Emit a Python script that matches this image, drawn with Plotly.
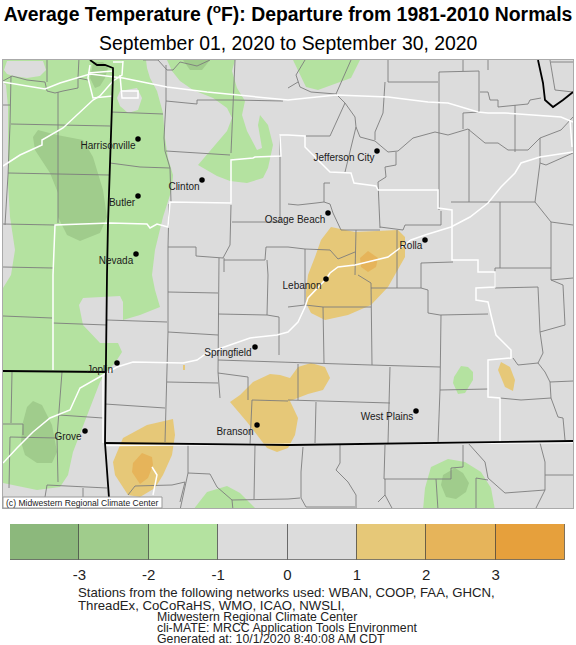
import plotly.graph_objects as go

PAGE_W = 576
PAGE_H = 645

# colour per departure bin
BIN_COLORS = ['#8CB87C', '#A0CC8C', '#B4E2A0', '#DCDCDC', '#DCDCDC', '#E6C878', '#E6B45A', '#E6A03C']
BIN_CENTERS = [-3.5, -2.5, -1.5, -0.5, 0.5, 1.5, 2.5, 3.5]
BIN_HEIGHTS = [1, 1, 1, 1, 1, 1, 1, 1]
TICK_VALUES = [-3, -2, -1, 0, 1, 2, 3]

LIGHT_GREEN = BIN_COLORS[2]
MID_GREEN = BIN_COLORS[1]
LIGHT_ORANGE = BIN_COLORS[5]
MID_ORANGE = BIN_COLORS[6]
GRAY = BIN_COLORS[3]

# contour regions, in map coordinates
green_west = [(3, 60), (146, 60), (147, 68), (150, 78), (157, 91), (160, 101), (163, 113), (165, 138), (168, 158),
              (173, 175), (172, 188), (170, 195), (163, 217), (155, 250), (152, 275), (155, 290), (160, 307), (140, 315),
              (123, 320), (123, 302), (120, 296), (83, 298), (79, 305), (83, 325), (100, 343), (118, 343), (122, 352),
              (115, 363), (105, 373), (100, 382), (90, 408), (73, 452), (68, 475), (60, 487), (37, 490), (3, 483),
              (3, 288), (11, 275), (15, 250), (10, 217), (8, 183), (8, 107), (6, 85), (3, 82)]
gray_topleft = [(7, 61), (43, 61), (46, 70), (40, 76), (27, 78), (13, 76), (7, 74), (4, 70)]
gray_kc = [(120, 91), (137, 88), (142, 98), (138, 110), (128, 113), (120, 106), (117, 98)]
green_central = [(167, 60), (235, 60), (232, 71), (237, 88), (245, 101), (242, 115), (247, 131), (257, 150), (262, 148),
                 (258, 125), (260, 115), (268, 125), (273, 145), (270, 158), (268, 168), (263, 178), (247, 183),
                 (230, 181), (217, 176), (198, 165), (210, 151), (227, 131), (232, 118), (227, 108), (213, 98),
                 (193, 90), (180, 81), (172, 71)]
green_north = [(293, 60), (360, 60), (351, 78), (318, 90), (306, 87), (300, 75)]
green_south = [(193, 510), (207, 492), (227, 486), (240, 493), (257, 510)]
green_small = [(461, 366), (454, 377), (453, 383), (458, 394), (465, 393), (473, 380), (473, 372), (468, 367)]
green_se = [(448, 459), (431, 467), (425, 488), (423, 510), (495, 510), (491, 488), (481, 472), (465, 462)]

dark_west = [(38, 130), (33, 137), (35, 150), (50, 173), (58, 193), (58, 217), (67, 235), (80, 241), (100, 233),
             (107, 217), (103, 190), (93, 157), (83, 140), (57, 135)]
dark_kc = [(92, 68), (90, 78), (95, 88), (100, 86), (105, 78), (108, 68), (103, 62), (93, 62)]
dark_top = [(183, 60), (210, 60), (202, 70), (190, 70)]
dark_ok = [(33, 401), (27, 407), (23, 422), (21, 442), (25, 455), (37, 463), (52, 463), (57, 452), (52, 425), (42, 405)]
dark_se = [(455, 468), (443, 475), (441, 485), (446, 497), (456, 499), (466, 492), (469, 483), (463, 473)]

orange_ar = [(173, 419), (147, 425), (123, 438), (113, 462), (115, 475), (128, 495), (140, 497), (155, 488), (163, 475),
             (172, 455), (175, 435)]
orange_branson = [(270, 374), (253, 382), (240, 395), (230, 402), (247, 422), (267, 448), (277, 452), (288, 448),
                  (295, 435), (298, 418), (290, 401), (298, 398), (308, 394), (323, 390), (330, 378), (325, 367),
                  (311, 363), (298, 367), (290, 378), (280, 375)]
orange_lebanon = [(331, 227), (321, 240), (315, 257), (308, 275), (306, 292), (306, 303), (311, 313), (325, 320),
                  (348, 315), (371, 305), (388, 287), (396, 273), (405, 257), (405, 237), (398, 230), (355, 232)]
orange_dot = [(183, 365), (185, 365), (185, 370), (183, 370)]
orange_east = [(501, 362), (498, 370), (505, 387), (513, 391), (515, 380), (510, 367)]
deep_ar = [(142, 453), (133, 463), (132, 472), (140, 484), (148, 478), (153, 465), (152, 457)]
deep_lebanon = [(368, 251), (360, 258), (361, 267), (368, 272), (376, 267), (378, 258)]

# county borders
county_lines = [
    [(3, 81), (12, 76), (27, 80), (45, 82), (47, 91), (55, 93), (63, 91), (78, 88), (78, 78)],
    [(47, 58), (47, 82)], [(79, 58), (78, 78)], [(78, 78), (88, 80)],
    [(11, 76), (10, 125), (8, 175), (5, 225)], [(3, 105), (10, 105)],
    [(58, 92), (58, 223)], [(11, 124), (110, 126)], [(8, 173), (109, 175)],
    [(3, 224), (55, 225)], [(3, 267), (53, 268)], [(3, 316), (52, 318)], [(53, 323), (107, 325)],
    [(111, 112), (163, 114)], [(110, 163), (125, 165), (140, 167), (170, 168)],
    [(166, 65), (166, 101), (164, 138), (165, 151), (170, 168), (171, 202)],
    [(166, 151), (230, 155)], [(166, 101), (197, 104), (197, 100), (233, 100), (283, 101)],
    [(235, 60), (231, 153)], [(143, 60), (158, 60), (167, 70), (173, 70), (180, 62), (197, 66), (210, 60)],
    [(169, 204), (168, 247), (196, 247), (196, 256), (223, 258), (230, 245), (231, 205)],
    [(232, 222), (280, 222)], [(224, 258), (224, 272)], [(168, 275), (168, 332), (165, 442)],
    [(168, 247), (168, 275)], [(168, 292), (218, 293)], [(219, 258), (218, 332), (218, 372), (220, 398)],
    [(107, 320), (167, 322)], [(168, 332), (218, 335)], [(267, 260), (268, 275), (267, 315), (218, 314)],
    [(224, 260), (265, 260), (266, 247), (288, 247), (305, 249), (330, 250), (338, 259), (355, 252)],
    [(267, 315), (279, 317), (279, 355)], [(218, 360), (280, 362), (371, 365)],
    [(167, 382), (218, 383)], [(218, 373), (248, 377), (248, 400)], [(252, 400), (250, 445)], [(252, 400), (288, 401)],
    [(105, 404), (165, 408)], [(280, 135), (280, 222)],
    [(288, 88), (298, 82)], [(305, 60), (296, 75), (300, 87), (311, 92), (336, 94)], [(351, 60), (336, 94)],
    [(388, 60), (388, 82), (438, 82)], [(385, 82), (383, 113), (375, 132), (375, 140)],
    [(336, 94), (345, 103), (355, 117), (356, 127), (360, 137), (375, 141), (388, 152), (398, 151), (413, 138),
     (435, 132), (448, 135), (468, 129), (485, 143), (498, 143), (508, 150), (528, 150), (540, 138), (561, 130), (573, 117)],
    [(345, 103), (330, 136), (306, 136)], [(356, 127), (345, 172)],
    [(396, 152), (396, 165), (385, 167), (386, 177), (378, 182), (380, 228)],
    [(439, 72), (439, 210)], [(439, 72), (479, 71), (479, 112)], [(463, 60), (463, 71)], [(488, 60), (488, 70)],
    [(463, 113), (463, 129)], [(463, 113), (479, 112)], [(469, 129), (469, 202)],
    [(480, 92), (488, 92), (490, 100), (498, 100), (498, 107), (515, 105), (528, 104), (530, 100), (541, 98)],
    [(515, 105), (515, 152)], [(540, 138), (540, 163), (535, 202)], [(540, 163), (546, 165), (573, 153)],
    [(451, 202), (535, 202)], [(500, 202), (500, 268)], [(551, 222), (551, 268)],
    [(535, 202), (551, 222), (573, 225)], [(495, 268), (551, 268)], [(421, 263), (421, 288)], [(421, 263), (453, 262)],
    [(324, 183), (330, 183)], [(324, 183), (324, 202), (316, 203), (298, 205), (288, 204)],
    [(324, 202), (330, 204), (333, 213), (340, 227), (341, 230), (380, 230)],
    [(380, 227), (403, 230), (405, 225), (441, 225), (441, 211)],
    [(356, 230), (355, 275)], [(397, 230), (397, 288)], [(305, 249), (305, 305)],
    [(288, 307), (305, 305), (323, 307), (371, 307)], [(358, 275), (371, 283), (372, 365)],
    [(371, 288), (421, 288), (428, 290), (428, 313), (440, 315), (488, 314)], [(323, 307), (324, 363)],
    [(298, 364), (298, 400)], [(288, 400), (390, 403)], [(390, 367), (388, 443)], [(316, 402), (315, 443)],
    [(441, 315), (440, 390), (438, 443)], [(440, 390), (488, 389)], [(371, 365), (440, 367)],
    [(495, 268), (495, 288), (538, 287), (540, 332), (543, 353), (538, 363), (518, 365), (513, 358)],
    [(540, 332), (565, 325), (563, 285), (551, 280), (573, 278)], [(551, 268), (551, 280)],
    [(538, 363), (545, 372), (550, 382), (573, 381)],
    [(550, 382), (551, 398), (558, 417), (563, 418), (565, 440)], [(500, 398), (521, 400), (551, 398)],
    [(468, 443), (485, 462), (488, 478), (505, 493), (545, 490), (535, 510)],
    [(540, 443), (545, 462), (545, 475), (573, 475)], [(545, 475), (545, 490)],
    [(463, 445), (463, 467), (451, 468), (451, 479), (384, 479), (385, 445)], [(436, 479), (438, 510)],
    [(476, 478), (476, 510)], [(476, 478), (488, 480)],
    [(340, 445), (340, 463), (336, 470), (348, 482), (356, 495), (356, 510)],
    [(303, 447), (301, 472), (301, 498), (306, 507), (355, 507)],
    [(385, 479), (385, 495), (378, 502)], [(385, 495), (393, 510)],
    [(12, 372), (11, 423)], [(3, 424), (23, 424), (23, 435)], [(62, 372), (59, 415), (57, 437), (58, 482)],
    [(59, 415), (103, 418)], [(10, 437), (57, 438)], [(10, 437), (9, 488)], [(47, 485), (107, 488)],
    [(47, 485), (45, 497)], [(83, 488), (83, 497)],
    [(188, 445), (188, 473), (180, 510)], [(188, 473), (210, 474), (217, 487), (232, 500), (288, 499), (300, 498)],
    [(255, 445), (254, 499)], [(232, 500), (233, 510)],
    [(128, 495), (135, 486), (172, 485), (185, 482), (180, 502)],
    [(550, 60), (555, 90), (573, 92)], [(551, 62), (573, 62)],
]

# highways and main roads
white_lines = [
    [(3, 82), (45, 89), (60, 83), (90, 74), (123, 78), (167, 87), (207, 92), (288, 100), (336, 95), (388, 97),
     (428, 102), (448, 103), (478, 112), (488, 113), (505, 113), (561, 117), (573, 122)],
    [(3, 463), (17, 448), (33, 432), (50, 418), (70, 410), (80, 388), (103, 375), (117, 367), (133, 362), (183, 363),
     (197, 360), (207, 353), (230, 345), (250, 338), (277, 335), (288, 332), (298, 322), (305, 307), (308, 298),
     (326, 279), (330, 273), (338, 267), (355, 265), (376, 260), (388, 257), (400, 248), (411, 240), (425, 235),
     (451, 227), (470, 217), (488, 203), (501, 187), (515, 173), (521, 163), (540, 157), (573, 152)],
    [(3, 166), (20, 155), (42, 145), (42, 140), (63, 128), (93, 100), (100, 96), (113, 81)],
    [(90, 65), (88, 78), (93, 98), (113, 96)], [(120, 75), (122, 98), (138, 98), (138, 91), (122, 91)],
    [(113, 62), (123, 62)], [(123, 61), (122, 75), (113, 81)], [(88, 73), (113, 71)],
    [(53, 370), (53, 275), (55, 225), (110, 223), (147, 224), (150, 228), (157, 224), (168, 227), (170, 202), (228, 203),
     (231, 203), (231, 160), (253, 158), (255, 157), (281, 156), (280, 135), (288, 135), (305, 136), (305, 147),
     (330, 172), (351, 173), (354, 183), (376, 186), (378, 190), (438, 190), (438, 208), (452, 210), (452, 260),
     (478, 260), (478, 272), (495, 272), (495, 287), (476, 288), (476, 300), (488, 302), (491, 315), (496, 335),
     (511, 350), (511, 358), (488, 360), (488, 397), (500, 398), (500, 442)],
    [(152, 467), (157, 475), (153, 495)],
    [(570, 120), (572, 147)],
    [(103, 375), (103, 443)],
    [(106, 445.5), (573, 442.5)],
]

# state borders
state_lines = [
    [(90, 60), (97, 65), (105, 65), (113, 68), (113, 75), (108, 223), (107, 275), (106, 372), (105, 443), (109, 498)],
    [(3, 371), (106, 372)],
    [(105, 443), (288, 445), (573, 441)],
    [(538, 60), (543, 83), (545, 100), (553, 107), (563, 100), (573, 92)],
]

city_names = ['Harrisonville', 'Butler', 'Nevada', 'Clinton', 'Jefferson City', 'Osage Beach', 'Rolla', 'Lebanon',
              'Springfield', 'Joplin', 'Grove', 'Branson', 'West Plains']
city_x = [138, 138, 136, 202, 377, 328, 425, 326, 255, 117, 85, 257, 416]
city_y = [139, 196, 254, 180, 151, 213, 240, 279, 347, 363, 431, 425, 411]
label_x = [108, 122, 116, 184, 344, 295, 411, 302, 228, 100, 68, 235, 387]
label_y = [146, 203, 261, 187, 158, 220, 246, 286, 353, 370, 437, 432, 417]

footer_left = ['Stations from the following networks used: WBAN, COOP, FAA, GHCN,',
               'ThreadEx, CoCoRaHS, WMO, ICAO, NWSLI,']
footer_right = ['Midwestern Regional Climate Center', 'cli-MATE: MRCC Application Tools Environment',
                'Generated at: 10/1/2020 8:40:08 AM CDT']


def px_x(x):
    return x / PAGE_W


def px_y(y):
    return 1 - y / PAGE_H


def add_region(fig, points, color):
    fig.add_trace(go.Scatter(
        x=[p[0] for p in points] + [points[0][0]],
        y=[p[1] for p in points] + [points[0][1]],
        mode='lines', fill='toself', fillcolor=color,
        line=dict(width=0, color=color), hoverinfo='skip', showlegend=False
    ))


def add_lines(fig, lines, color, width):
    xs, ys = [], []
    for line in lines:
        xs += [p[0] for p in line] + [None]
        ys += [p[1] for p in line] + [None]
    fig.add_trace(go.Scatter(x=xs, y=ys, mode='lines', line=dict(color=color, width=width),
                             hoverinfo='skip', showlegend=False))


fig = go.Figure()

for region in [green_west, green_central, green_north, green_south, green_small, green_se]:
    add_region(fig, region, LIGHT_GREEN)
for region in [gray_topleft, gray_kc]:
    add_region(fig, region, GRAY)
for region in [dark_west, dark_kc, dark_top, dark_ok, dark_se]:
    add_region(fig, region, MID_GREEN)
for region in [orange_ar, orange_branson, orange_lebanon, orange_dot, orange_east]:
    add_region(fig, region, LIGHT_ORANGE)
for region in [deep_ar, deep_lebanon]:
    add_region(fig, region, MID_ORANGE)

add_lines(fig, county_lines, '#7D7D7D', 0.9)
add_lines(fig, white_lines, 'white', 1.5)
add_lines(fig, state_lines, 'black', 1.8)

fig.add_trace(go.Scatter(x=city_x, y=city_y, mode='markers', marker=dict(color='black', size=5.5),
                         hoverinfo='skip', showlegend=False))
fig.add_trace(go.Scatter(x=label_x, y=label_y, mode='text', text=city_names, textposition='middle center',
                         textfont=dict(size=10, color='#1a1a1a'), hoverinfo='skip', showlegend=False))

# colour scale along the bottom
fig.add_trace(go.Bar(x=BIN_CENTERS, y=BIN_HEIGHTS, width=1, marker=dict(color=BIN_COLORS,
                     line=dict(color='rgba(50,50,50,0.55)', width=1)), xaxis='x2', yaxis='y2',
                     hoverinfo='skip', showlegend=False))

annotations = [
    dict(text='September 01, 2020 to September 30, 2020', x=px_x(288), y=px_y(43), font=dict(size=19.4, color='black')),
    dict(text='(c) Midwestern Regional Climate Center', x=px_x(4), y=px_y(503), xanchor='left',
         font=dict(size=8.6, color='#222222')),
]
for i, text in enumerate(footer_left):
    annotations.append(dict(text=text, x=px_x(76), y=px_y(592 + i * 13), xanchor='left',
                            font=dict(size=13.2, color='#222222')))
for i, text in enumerate(footer_right):
    annotations.append(dict(text=text, x=px_x(155), y=px_y(617 + i * 11), xanchor='left',
                            font=dict(size=12.3, color='#222222')))
for a in annotations:
    a.update(xref='paper', yref='paper', showarrow=False, yanchor='middle')

fig.update_layout(
    width=PAGE_W,
    height=PAGE_H,
    margin=dict(l=0, r=0, t=0, b=0),
    paper_bgcolor='white',
    plot_bgcolor=GRAY,
    font=dict(family='Liberation Sans, Arial, sans-serif', color='black'),
    title=dict(text='<b>Average Temperature (<sup>o</sup>F): Departure from 1981-2010 Normals</b>',
               x=0.5, xanchor='center', xref='paper', y=px_y(14), yanchor='middle', yref='paper',
               font=dict(size=19.4, color='black')),
    showlegend=False,
    bargap=0,
    annotations=annotations,
    shapes=[dict(type='rect', xref='paper', yref='paper', x0=px_x(3), x1=px_x(162), y0=px_y(508), y1=px_y(497),
                 fillcolor='white', line=dict(color='#999999', width=1))],
    xaxis=dict(domain=[px_x(3), px_x(573)], range=[3, 573], showgrid=False, zeroline=False, showticklabels=False,
               ticks='', showline=True, mirror=True, linecolor='#AAAAAA', linewidth=1),
    yaxis=dict(domain=[px_y(508), px_y(60)], range=[508, 60], showgrid=False, zeroline=False, showticklabels=False,
               ticks='', showline=True, mirror=True, linecolor='#AAAAAA', linewidth=1),
    xaxis2=dict(domain=[px_x(10), px_x(565)], range=[-4, 4], anchor='y2', tickmode='array', tickvals=TICK_VALUES,
                ticktext=[str(v) for v in TICK_VALUES], ticks='outside', ticklen=1, tickcolor='rgba(0,0,0,0)',
                showgrid=False, zeroline=False, tickfont=dict(size=15, color='#222222')),
    yaxis2=dict(domain=[px_y(560), px_y(524)], range=[0, 1], anchor='x2', showticklabels=False, ticks='',
                showgrid=False, zeroline=False),
)

fig.write_html("out.html", config=dict(displayModeBar=False),
               post_script="document.body.style.margin='0';document.body.style.overflow='hidden';")
